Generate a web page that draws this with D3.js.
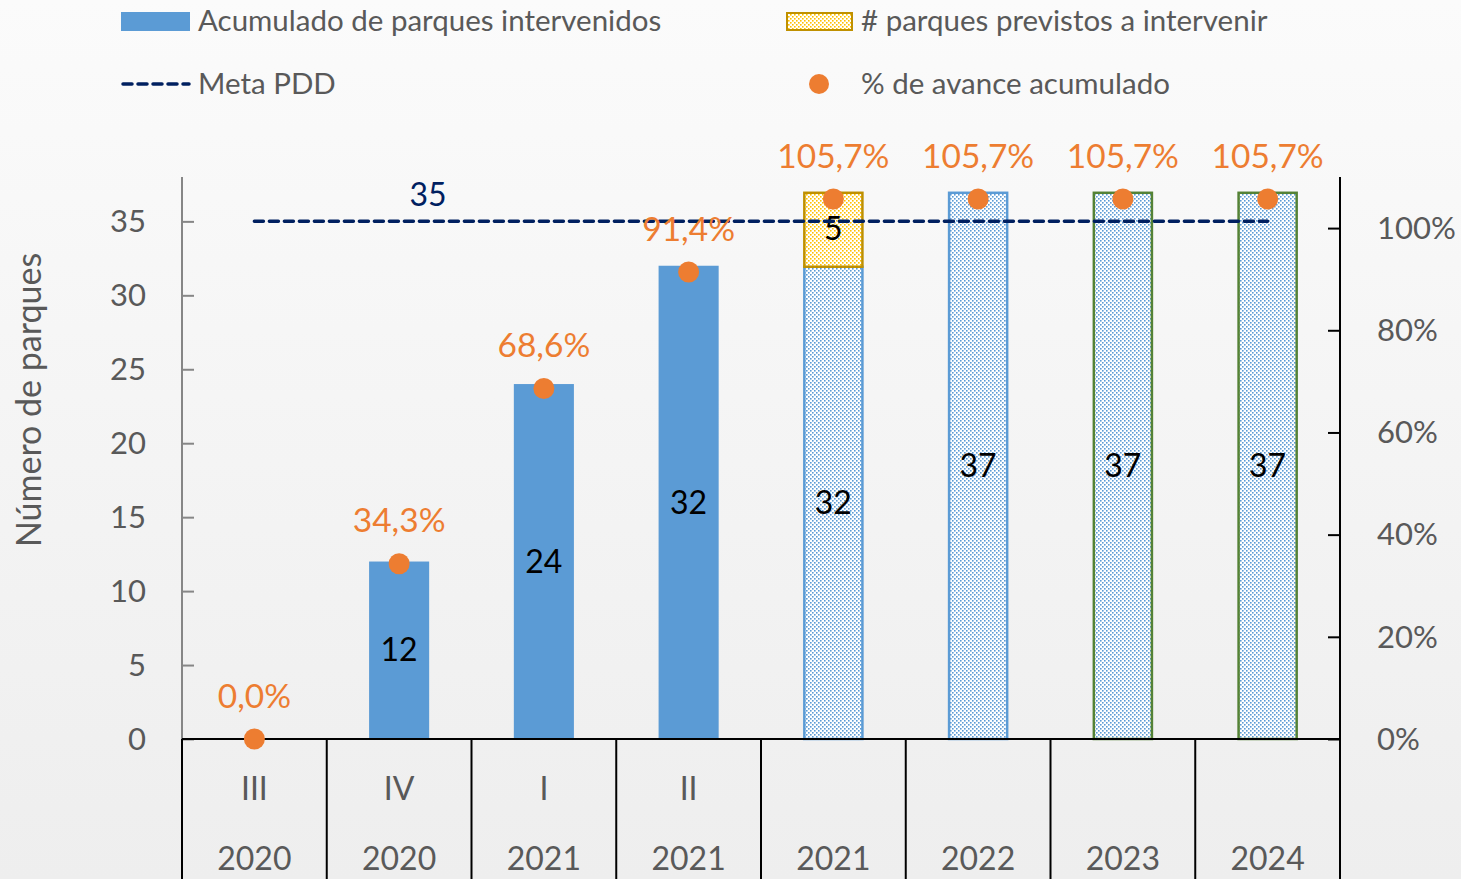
<!DOCTYPE html>
<html>
<head>
<meta charset="utf-8">
<script src="https://cdn.jsdelivr.net/npm/d3@7"></script>
<style>
  body { margin: 0; background: #f5f5f5; }
  svg text { font-family: Lato, "Open Sans", sans-serif; }
</style>
</head>
<body>
<div id="chart"></div>
<script>
// data
var quarters = ["III", "IV", "I", "II", "", "", "", ""];
var years = ["2020", "2020", "2021", "2021", "2021", "2022", "2023", "2024"];
var intervenidos = [0, 12, 24, 32, 0, 0, 0, 0]; // solid bars
var proyectados = [0, 0, 0, 0, 32, 37, 37, 37]; // dotted bars
var previstos = [0, 0, 0, 0, 5, 0, 0, 0]; // yellow stack on top
var avance = [0, 0.343, 0.686, 0.914, 1.057, 1.057, 1.057, 1.057];
var meta = 35;
var leftTicks = [0, 5, 10, 15, 20, 25, 30, 35];
var rightTicks = [0, 0.2, 0.4, 0.6, 0.8, 1.0];

const width = 1461;
const height = 879;
const margin = { top: 177, right: 121, bottom: 140, left: 182 };

const blue = "#5b9bd5";
const orange = "#ed7d31";
const navy = "#002060";
const gold = "#bf9000";
const green = "#548235";
const grayText = "#595959";

const idx = d3.range(years.length);

const x = d3
  .scaleBand()
  .domain(idx)
  .range([margin.left, width - margin.right]);

const yL = d3
  .scaleLinear()
  .domain([0, 38])
  .range([height - margin.bottom, margin.top]);

const yR = d3
  .scaleLinear()
  .domain([0, 1.1])
  .range([height - margin.bottom, margin.top]);

const barW = x.bandwidth() * 0.415;
const cx = (i) => x(i) + x.bandwidth() / 2;
const fmtPct = (v) => d3.format(".1%")(v).replace(".", ",");

const svg = d3
  .select("#chart")
  .append("svg")
  .attr("width", width)
  .attr("height", height);

const defs = svg.append("defs");

const bg = defs
  .append("linearGradient")
  .attr("id", "bg")
  .attr("x1", 0)
  .attr("y1", 0)
  .attr("x2", 0)
  .attr("y2", 1);
bg.append("stop").attr("offset", "0%").attr("stop-color", "#fbfbfb");
bg.append("stop").attr("offset", "60%").attr("stop-color", "#f3f3f3");
bg.append("stop").attr("offset", "100%").attr("stop-color", "#eeeeee");

function dotPattern(id, color) {
  const p = defs
    .append("pattern")
    .attr("id", id)
    .attr("width", 4)
    .attr("height", 4)
    .attr("patternUnits", "userSpaceOnUse");
  p.append("rect").attr("width", 4).attr("height", 4).attr("fill", "#ffffff");
  p.append("rect").attr("x", 0).attr("y", 0).attr("width", 1.6).attr("height", 1.6).attr("fill", color);
  p.append("rect").attr("x", 2).attr("y", 2).attr("width", 1.6).attr("height", 1.6).attr("fill", color);
}
dotPattern("dotsBlue", blue);
dotPattern("dotsGold", "#ffc000");

svg.append("rect").attr("width", width).attr("height", height).attr("fill", "url(#bg)");

// left axis
svg
  .append("g")
  .attr("transform", `translate(${margin.left},0)`)
  .call(d3.axisRight(yL).tickValues(leftTicks).tickSize(12).tickFormat(""))
  .call((g) => g.select(".domain").attr("stroke", "#868686").attr("stroke-width", 2).attr("d", `M0,${margin.top}V${yL(0)}`))
  .call((g) => g.selectAll(".tick line").attr("stroke", "#868686").attr("stroke-width", 2));

svg
  .append("g")
  .selectAll("text")
  .data(leftTicks)
  .join("text")
  .attr("x", 146)
  .attr("y", (d) => yL(d))
  .attr("dy", "0.35em")
  .attr("text-anchor", "end")
  .attr("fill", grayText)
  .style("font-size", "31px")
  .text((d) => d);

// right axis
svg
  .append("g")
  .attr("transform", `translate(${width - margin.right},0)`)
  .call(d3.axisLeft(yR).tickValues(rightTicks).tickSize(12).tickFormat(""))
  .call((g) => g.select(".domain").attr("stroke", "#000").attr("stroke-width", 2).attr("d", `M0,${margin.top}V${height}`))
  .call((g) => g.selectAll(".tick line").attr("stroke", "#000").attr("stroke-width", 2));

svg
  .append("g")
  .selectAll("text")
  .data(rightTicks)
  .join("text")
  .attr("x", width - margin.right + 37)
  .attr("y", (d) => yR(d))
  .attr("dy", "0.35em")
  .attr("fill", grayText)
  .style("font-size", "31px")
  .text((d) => d3.format(".0%")(d));

// y title
svg
  .append("text")
  .attr("transform", `translate(41, 400) rotate(-90)`)
  .attr("text-anchor", "middle")
  .attr("fill", grayText)
  .style("font-size", "34px")
  .text("Número de parques");

// solid bars
svg
  .append("g")
  .selectAll("rect")
  .data(idx.filter((i) => intervenidos[i] > 0))
  .join("rect")
  .attr("x", (i) => cx(i) - barW / 2)
  .attr("y", (i) => yL(intervenidos[i]))
  .attr("width", barW)
  .attr("height", (i) => yL(0) - yL(intervenidos[i]))
  .attr("fill", blue);

// dotted bars
svg
  .append("g")
  .selectAll("rect")
  .data(idx.filter((i) => proyectados[i] > 0))
  .join("rect")
  .attr("x", (i) => cx(i) - barW / 2 + 1)
  .attr("y", (i) => yL(proyectados[i]) + 1)
  .attr("width", barW - 2)
  .attr("height", (i) => yL(0) - yL(proyectados[i]) - 1)
  .attr("fill", "url(#dotsBlue)")
  .attr("stroke", (i) => (+years[i] >= 2023 ? green : blue))
  .attr("stroke-width", 2.5);

// yellow stack
svg
  .append("g")
  .selectAll("rect")
  .data(idx.filter((i) => previstos[i] > 0))
  .join("rect")
  .attr("x", (i) => cx(i) - barW / 2 + 1)
  .attr("y", (i) => yL(proyectados[i] + previstos[i]) + 1)
  .attr("width", barW - 2)
  .attr("height", (i) => yL(proyectados[i]) - yL(proyectados[i] + previstos[i]))
  .attr("fill", "url(#dotsGold)")
  .attr("stroke", gold)
  .attr("stroke-width", 2.5);

// bar value labels
const valueLabels = [];
idx.forEach((i) => {
  if (intervenidos[i] > 0) valueLabels.push({ i: i, v: intervenidos[i], mid: intervenidos[i] / 2 });
  if (proyectados[i] > 0) valueLabels.push({ i: i, v: proyectados[i], mid: proyectados[i] / 2 });
  if (previstos[i] > 0) valueLabels.push({ i: i, v: previstos[i], mid: proyectados[i] + previstos[i] / 2 });
});

svg
  .append("g")
  .selectAll("text")
  .data(valueLabels)
  .join("text")
  .attr("x", (d) => cx(d.i))
  .attr("y", (d) => yL(d.mid))
  .attr("dy", "0.35em")
  .attr("text-anchor", "middle")
  .attr("fill", "#000")
  .style("font-size", "32px")
  .text((d) => d.v);

// category axis
const catAxis = svg.append("g").attr("stroke", "#000").attr("stroke-width", 2);
catAxis
  .append("line")
  .attr("x1", margin.left)
  .attr("x2", width - margin.right)
  .attr("y1", yL(0))
  .attr("y2", yL(0));
catAxis
  .selectAll("line.div")
  .data(idx)
  .join("line")
  .attr("class", "div")
  .attr("x1", (i) => x(i))
  .attr("x2", (i) => x(i))
  .attr("y1", yL(0))
  .attr("y2", height);

svg
  .append("g")
  .selectAll("text")
  .data(idx)
  .join("text")
  .attr("x", (i) => cx(i))
  .attr("y", 789)
  .attr("dy", "0.35em")
  .attr("text-anchor", "middle")
  .attr("fill", grayText)
  .style("font-size", "32px")
  .text((i) => quarters[i]);

svg
  .append("g")
  .selectAll("text")
  .data(idx)
  .join("text")
  .attr("x", (i) => cx(i))
  .attr("y", 859)
  .attr("dy", "0.35em")
  .attr("text-anchor", "middle")
  .attr("fill", grayText)
  .style("font-size", "32px")
  .text((i) => years[i]);

// meta line
svg
  .append("line")
  .attr("x1", cx(0))
  .attr("x2", cx(idx.length - 1))
  .attr("y1", yL(meta))
  .attr("y2", yL(meta))
  .attr("stroke", navy)
  .attr("stroke-width", 3.5)
  .attr("stroke-dasharray", "9,6")
  .attr("stroke-linecap", "round");

svg
  .append("text")
  .attr("x", cx(1) + 29)
  .attr("y", yL(meta) - 27)
  .attr("dy", "0.35em")
  .attr("text-anchor", "middle")
  .attr("fill", navy)
  .style("font-size", "32px")
  .text(meta);

// % avance points
svg
  .append("g")
  .selectAll("circle")
  .data(idx)
  .join("circle")
  .attr("cx", (i) => cx(i))
  .attr("cy", (i) => yR(avance[i]))
  .attr("r", 10.5)
  .attr("fill", orange);

svg
  .append("g")
  .selectAll("text")
  .data(idx)
  .join("text")
  .attr("x", (i) => cx(i))
  .attr("y", (i) => yR(avance[i]) - 43)
  .attr("dy", "0.35em")
  .attr("text-anchor", "middle")
  .attr("fill", orange)
  .style("font-size", "33.5px")
  .text((i) => fmtPct(avance[i]));

// legend
const legend = svg.append("g");
legend.append("rect").attr("x", 121).attr("y", 12).attr("width", 69).attr("height", 19).attr("fill", blue);
legend
  .append("text")
  .attr("x", 198)
  .attr("y", 21)
  .attr("dy", "0.35em")
  .attr("fill", grayText)
  .style("font-size", "29.5px")
  .text("Acumulado de parques intervenidos");

legend
  .append("rect")
  .attr("x", 787)
  .attr("y", 13)
  .attr("width", 65)
  .attr("height", 17)
  .attr("fill", "url(#dotsGold)")
  .attr("stroke", gold)
  .attr("stroke-width", 2);
legend
  .append("text")
  .attr("x", 861)
  .attr("y", 21)
  .attr("dy", "0.35em")
  .attr("fill", grayText)
  .style("font-size", "29.5px")
  .text("# parques previstos a intervenir");

legend
  .append("line")
  .attr("x1", 123)
  .attr("x2", 189)
  .attr("y1", 84)
  .attr("y2", 84)
  .attr("stroke", navy)
  .attr("stroke-width", 3.5)
  .attr("stroke-dasharray", "9,6")
  .attr("stroke-linecap", "round");
legend
  .append("text")
  .attr("x", 198)
  .attr("y", 84)
  .attr("dy", "0.35em")
  .attr("fill", grayText)
  .style("font-size", "29.5px")
  .text("Meta PDD");

legend.append("circle").attr("cx", 819).attr("cy", 84).attr("r", 10).attr("fill", orange);
legend
  .append("text")
  .attr("x", 861)
  .attr("y", 84)
  .attr("dy", "0.35em")
  .attr("fill", grayText)
  .style("font-size", "29.5px")
  .text("% de avance acumulado");
</script>
</body>
</html>
